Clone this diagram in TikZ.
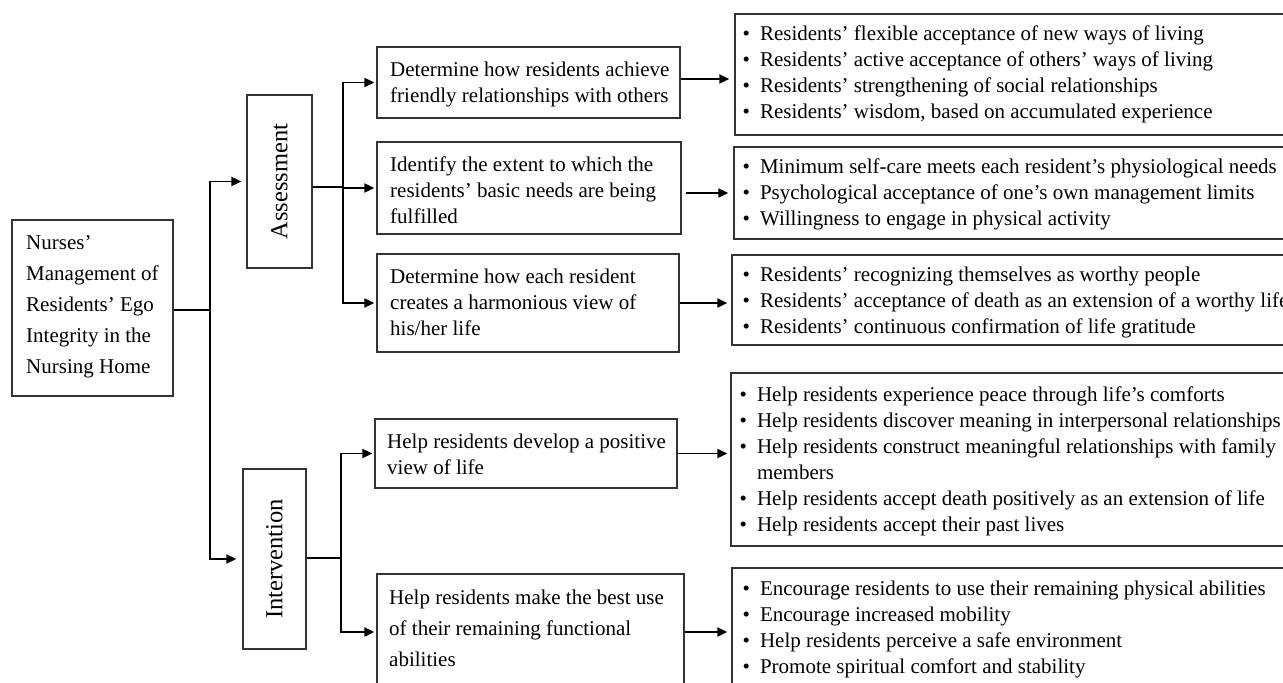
\documentclass[tikz,border=0pt]{standalone}
\usepackage{fontspec}
\setmainfont{Liberation Serif}
\usetikzlibrary{arrows.meta}
\newcommand{\myb}{•\hspace{10pt}}
\begin{document}
\begin{tikzpicture}[x=1pt,y=-1pt,
  box/.style={draw=black!80, line width=1.3pt, inner sep=0pt},
  txt/.style={anchor=west, align=left, inner sep=0pt, font=\fontsize{21}{26}\selectfont},
  txtwide/.style={txt, font=\fontsize{21}{31}\selectfont},
  vlabel/.style={rotate=90, inner sep=0pt, font=\fontsize{24.5}{29}\selectfont},
  conn/.style={line width=1.9pt, black},
  arr/.style={conn, -{Triangle[length=10pt,width=9pt]}},
]
\clip (0,0) rectangle (1283,683);
\fill[white] (0,0) rectangle (1283,683);

% root
\node[box, minimum width=161pt, minimum height=176pt] (root) at (92.5,308) {};
\node[txtwide] (roott) at (26,307) {Nurses’\\Management of\\Residents’ Ego\\Integrity in the\\Nursing Home};

% level 1
\node[box, minimum width=65pt, minimum height=173pt] (assess) at (279.5,181.5) {};
\node[vlabel] (assesst) at (assess.center) {Assessment};
\node[box, minimum width=63pt, minimum height=180pt] (interv) at (274.5,559) {};
\node[vlabel] (intervt) at (interv.center) {Intervention};

% level 2
\node[box, minimum width=303pt, minimum height=71pt] (A1) at (528.5,82.5) {};
\node[txt] (A1t) at (390,84) {Determine how residents achieve\\friendly relationships with others};
\node[box, minimum width=304pt, minimum height=92pt] (A2) at (529,188) {};
\node[txt] (A2t) at (390,190) {Identify the extent to which the\\residents’ basic needs are being\\fulfilled};
\node[box, minimum width=302pt, minimum height=98pt] (A3) at (528,303) {};
\node[txt] (A3t) at (390,302) {Determine how each resident\\creates a harmonious view of\\his/her life};
\node[box, minimum width=302pt, minimum height=69pt] (I1) at (526,453.5) {};
\node[txt] (I1t) at (387,454) {Help residents develop a positive\\view of life};
\node[box, minimum width=307pt, minimum height=116pt] (I2) at (530.5,632) {};
\node[txtwide] (I2t) at (389,628) {Help residents make the best use\\of their remaining functional\\abilities};

% level 3
\node[box, minimum width=565pt, minimum height=121pt] (R1) at (1017.5,74.5) {};
\node[txt] (R1t) at (742.5,74) {\myb Residents’ flexible acceptance of new ways of living\\\myb Residents’ active acceptance of others’ ways of living\\\myb Residents’ strengthening of social relationships\\\myb Residents’ wisdom, based on accumulated experience};
\node[box, minimum width=566pt, minimum height=92pt] (R2) at (1017,193) {};
\node[txt] (R2t) at (742.5,194) {\myb Minimum self-care meets each resident’s physiological needs\\\myb Psychological acceptance of one’s own management limits\\\myb Willingness to engage in physical activity};
\node[box, minimum width=568pt, minimum height=90pt] (R3) at (1016,300) {};
\node[txt] (R3t) at (742.5,302) {\myb Residents’ recognizing themselves as worthy people\\\myb Residents’ acceptance of death as an extension of a worthy life\\\myb Residents’ continuous confirmation of life gratitude};
\node[box, minimum width=569pt, minimum height=173pt] (R4) at (1015.5,459.5) {};
\node[txt] (R4t) at (739.5,461) {\myb Help residents experience peace through life’s comforts\\\myb Help residents discover meaning in interpersonal relationships\\\myb Help residents construct meaningful relationships with family\\\phantom{\myb}members\\\myb Help residents accept death positively as an extension of life\\\myb Help residents accept their past lives};
\node[box, minimum width=568pt, minimum height=128pt] (R5) at (1016,632) {};
\node[txt] (R5t) at (742.5,629.5) {\myb Encourage residents to use their remaining physical abilities\\\myb Encourage increased mobility\\\myb Help residents perceive a safe environment\\\myb Promote spiritual comfort and stability};

% connectors: root to level 1
\coordinate (j1) at (210,310);
\draw[conn] ([yshift=-2pt]root.east) -- (j1);
\draw[arr, shorten >=5pt] (j1) |- (assess.west);
\draw[arr, shorten >=6pt] (j1) |- (interv.west);

% assessment branch
\coordinate (j2) at (343,187);
\draw[conn] ([yshift=-5.5pt]assess.east) -- (j2);
\draw[arr, shorten >=2pt] (j2) |- (A1.west);
\draw[arr, shorten >=2pt] (j2) |- (A2.west);
\draw[arr, shorten >=2pt] (j2) |- (A3.west);

% intervention branch
\coordinate (j3) at (341,558);
\draw[conn] ([yshift=1pt]interv.east) -- (j3);
\draw[arr, shorten >=2pt] (j3) |- (I1.west);
\draw[arr, shorten >=2pt] (j3) |- (I2.west);

% level 2 to level 3
\draw[arr, shorten >=5pt] ([yshift=3.5pt]A1.east) -- ([yshift=3.5pt]A1.east -| R1.west);
\draw[arr, shorten >=5pt] ([xshift=4pt]A2.east |- R2.west) -- (R2.west);
\draw[arr, shorten >=4pt] (A3.east) -- (A3.east -| R3.west);
\draw[arr, shorten >=3pt] (I1.east) -- (I1.east -| R4.west);
\draw[arr, shorten >=4pt] (I2.east) -- (I2.east -| R5.west);
\end{tikzpicture}
\end{document}
